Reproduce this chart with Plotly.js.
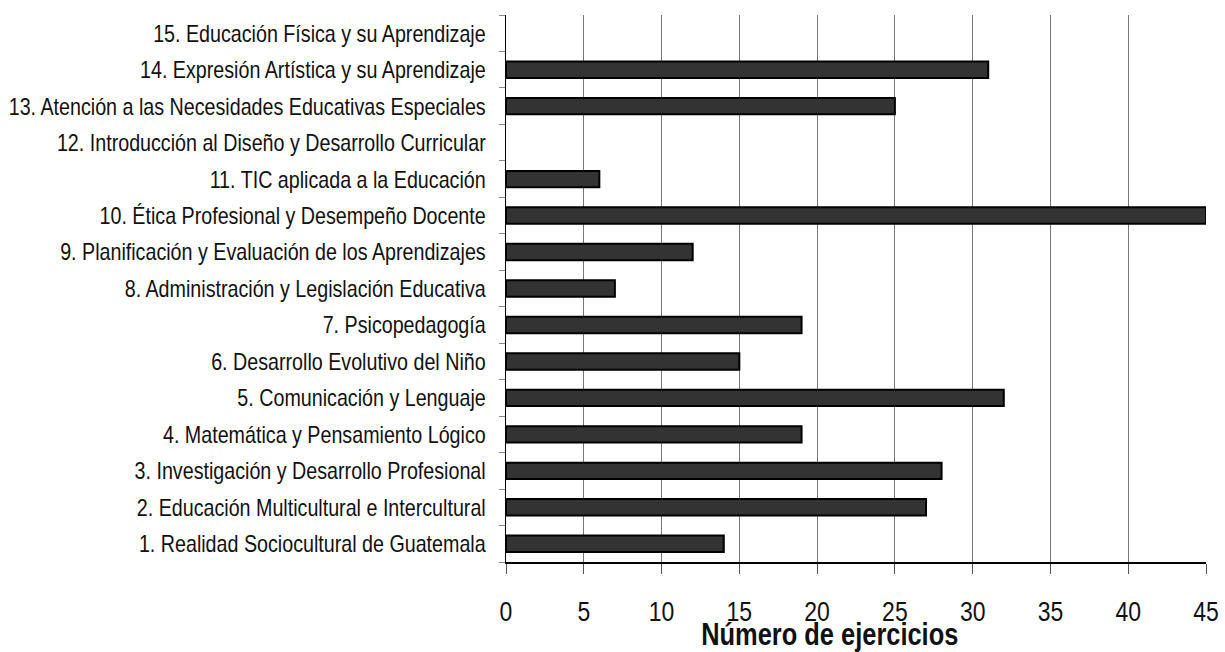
<!DOCTYPE html>
<html>
<head>
<meta charset="utf-8">
<script src="https://cdn.plot.ly/plotly-3.0.1.min.js"></script>
<style>
  html, body { margin: 0; padding: 0; background: #ffffff; }
  #chart { width: 1225px; height: 652px; }
</style>
</head>
<body>
<div id="chart"></div>
<script>
// Courses of the curriculum, listed bottom to top
const courses = [
  "1. Realidad Sociocultural de Guatemala",
  "2. Educación Multicultural e Intercultural",
  "3. Investigación y Desarrollo Profesional",
  "4. Matemática y Pensamiento Lógico",
  "5. Comunicación y Lenguaje",
  "6. Desarrollo Evolutivo del Niño",
  "7. Psicopedagogía",
  "8. Administración y Legislación Educativa",
  "9. Planificación y Evaluación de los Aprendizajes",
  "10. Ética Profesional y Desempeño Docente",
  "11. TIC aplicada a la Educación",
  "12. Introducción al Diseño y Desarrollo Curricular",
  "13. Atención a las Necesidades Educativas Especiales",
  "14. Expresión Artística y su Aprendizaje",
  "15. Educación Física y su Aprendizaje"
];

// Number of exercises per course
const exercises = [14, 27, 28, 19, 32, 15, 19, 7, 12, 45, 6, 0, 25, 31, 0];

const xTicks = [0, 5, 10, 15, 20, 25, 30, 35, 40, 45];
const xTitle = "Número de ejercicios";

const sans = "'Liberation Sans', Arial, sans-serif";
// Horizontal squeeze applied to every label to get a narrow face
const NARROW = 0.82;

const trace = {
  type: "bar",
  orientation: "h",
  x: exercises,
  y: courses,
  marker: {
    color: "#333333",
    line: { color: "#000000", width: exercises.map(v => (v > 0 ? 2 : 0)) }
  },
  hoverinfo: "x+y"
};

const layout = {
  width: 1225,
  height: 652,
  margin: { l: 506, r: 19, t: 15, b: 90 },
  paper_bgcolor: "#ffffff",
  plot_bgcolor: "#ffffff",
  showlegend: false,
  bargap: 0.55,
  xaxis: {
    range: [0, 45],
    tickvals: xTicks,
    ticktext: xTicks.map(String),
    showgrid: true,
    gridcolor: "#777777",
    gridwidth: 1,
    zeroline: false,
    showline: true,
    linecolor: "#000000",
    linewidth: 1.5,
    ticks: "outside",
    ticklen: 10,
    tickcolor: "#555555",
    tickwidth: 1,
    ticklabelstandoff: 14,
    tickfont: { family: sans, size: 28, color: "#111111" },
    fixedrange: true
  },
  yaxis: {
    type: "category",
    showgrid: false,
    zeroline: false,
    showline: true,
    linecolor: "#000000",
    linewidth: 1.5,
    ticks: "outside",
    tickson: "boundaries",
    ticklen: 6,
    tickcolor: "#888888",
    tickwidth: 1,
    ticklabelstandoff: 14,
    tickfont: { family: sans, size: 24, color: "#111111" },
    fixedrange: true
  },
  annotations: [{
    text: "<b>" + xTitle + "</b>",
    xref: "paper",
    yref: "paper",
    x: 0.4635,
    y: 0,
    xanchor: "center",
    yanchor: "middle",
    yshift: -72,
    showarrow: false,
    font: { family: sans, size: 31, color: "#111111" }
  }]
};

// Compress label glyphs horizontally, keeping each label's anchor point
function narrowLabels(gd) {
  const nodes = gd.querySelectorAll(".xtick text, .ytick text, .annotation-text");
  nodes.forEach(function (t) {
    const w = t.getComputedTextLength();
    if (w > 0) {
      t.setAttribute("textLength", (w * NARROW).toFixed(2));
      t.setAttribute("lengthAdjust", "spacingAndGlyphs");
    }
  });
}

Plotly.newPlot("chart", [trace], layout, { displayModeBar: false, staticPlot: true })
  .then(narrowLabels);
</script>
</body>
</html>
